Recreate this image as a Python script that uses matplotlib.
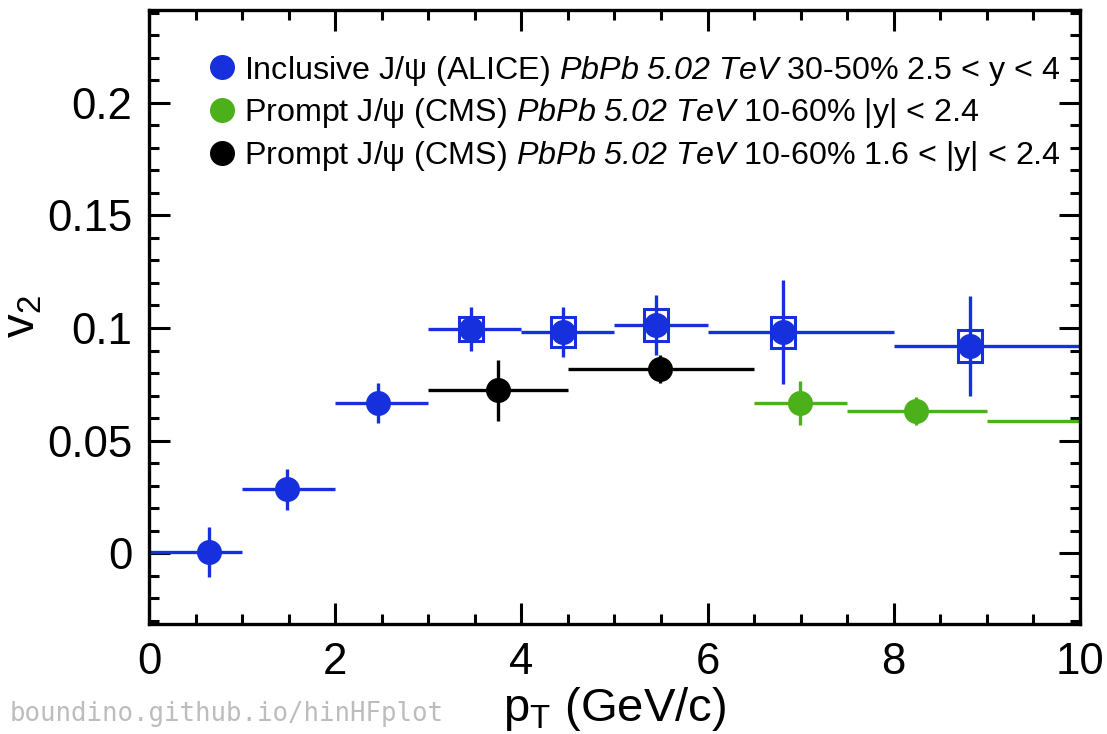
import numpy as np
import matplotlib
matplotlib.use("Agg")
import matplotlib.pyplot as plt
from matplotlib.lines import Line2D
from matplotlib.patches import Rectangle
from matplotlib.ticker import MultipleLocator

plt.rcParams['font.family'] = ['Liberation Sans', 'DejaVu Sans']
plt.rcParams['mathtext.fontset'] = 'custom'
plt.rcParams['mathtext.rm'] = 'Liberation Sans'
plt.rcParams['mathtext.it'] = 'Liberation Sans:italic'
plt.rcParams['mathtext.sf'] = 'Liberation Sans:italic'  # used for italic text incl. digits

# ALICE inclusive J/psi, PbPb 5.02 TeV 30-50%, 2.5<y<4
alice_pt = [0.64, 1.48, 2.46, 3.46, 4.45, 5.45, 6.81, 8.82]
alice_lo = [0, 1, 2, 3, 4, 5, 6, 8]
alice_hi = [1, 2, 3, 4, 5, 6, 8, 10]
alice_v2 = [0.0005, 0.0284, 0.0667, 0.0996, 0.0982, 0.1015, 0.0982, 0.092]
alice_stat = [0.011, 0.0091, 0.0089, 0.0098, 0.011, 0.0133, 0.0233, 0.0224]
alice_syst = [np.nan, np.nan, np.nan, 0.0053, 0.0067, 0.0071, 0.0069, 0.0071]

# CMS prompt J/psi, 10-60%, |y|<2.4
cms_pt = [6.99, 8.24, 10.3]
cms_lo = [6.5, 7.5, 9]
cms_hi = [7.5, 9, 12]
cms_v2 = [0.0667, 0.0631, 0.0587]
cms_stat = [0.0096, 0.0064, 0.008]

# CMS prompt J/psi, 10-60%, 1.6<|y|<2.4
cmsf_pt = [3.745, 5.49]
cmsf_lo = [3, 4.5]
cmsf_hi = [4.5, 6.5]
cmsf_v2 = [0.0724, 0.0818]
cmsf_stat = [0.0136, 0.0064]

blue = '#1530dc'
green = '#4cb01a'
black = '#000000'

labels = [
    r'Inclusive J/ψ (ALICE) $\mathsf{PbPb\ 5.02\ TeV}$ 30-50% 2.5 < y < 4',
    r'Prompt J/ψ (CMS) $\mathsf{PbPb\ 5.02\ TeV}$ 10-60% |y| < 2.4',
    r'Prompt J/ψ (CMS) $\mathsf{PbPb\ 5.02\ TeV}$ 10-60% 1.6 < |y| < 2.4',
]

fig = plt.figure(figsize=(11.07, 7.34), dpi=100)
ax = fig.add_axes([0.1346, 0.1499, 0.8410, 0.8365])


def draw(ax, pt, lo, hi, v2, stat, color):
    pt = np.array(pt)
    xerr = [pt - np.array(lo), np.array(hi) - pt]
    ax.errorbar(pt, v2, xerr=xerr, yerr=stat, fmt='o', color=color,
                ms=18, elinewidth=2.4, capsize=0, mew=0, clip_on=True)


draw(ax, cms_pt, cms_lo, cms_hi, cms_v2, cms_stat, green)
draw(ax, cmsf_pt, cmsf_lo, cmsf_hi, cmsf_v2, cmsf_stat, black)

# systematic boxes
for x, y, s in zip(alice_pt, alice_v2, alice_syst):
    if np.isnan(s):
        continue
    ax.add_patch(Rectangle((x - 0.13, y - s), 0.26, 2 * s, fill=False,
                           edgecolor=blue, lw=2.2, zorder=3))
draw(ax, alice_pt, alice_lo, alice_hi, alice_v2, alice_stat, blue)

ax.set_xlim(0, 10)
ax.set_ylim(-0.0315, 0.2413)
ax.xaxis.set_major_locator(MultipleLocator(2))
ax.xaxis.set_minor_locator(MultipleLocator(0.5))
ax.yaxis.set_minor_locator(MultipleLocator(0.01))
ax.set_yticks([0, 0.05, 0.1, 0.15, 0.2])
ax.set_yticklabels(['0', '0.05', '0.1', '0.15', '0.2'])
ax.tick_params(which='both', direction='in', top=True, right=True, width=2.2)
ax.tick_params(which='major', length=15, labelsize=31.5)
ax.tick_params(axis='x', which='major', pad=13)
ax.tick_params(axis='y', which='major', pad=12)
ax.tick_params(which='minor', length=7.5)
for sp in ax.spines.values():
    sp.set_linewidth(2.4)

ax.set_xlabel(r'p$_\mathrm{T}$ (GeV/c)', fontsize=34)
ax.xaxis.set_label_coords(0.5, -0.1)
ax.set_ylabel(r'v$_2$', fontsize=34)
ax.yaxis.set_label_coords(-0.112, 0.5)

handles = [Line2D([], [], ls='', marker='o', ms=18, mew=0, color=c)
           for c in (blue, green, black)]
ax.legend(handles, labels, loc='upper left', bbox_to_anchor=(0.0575, 0.929),
          frameon=False, fontsize=23.2, handletextpad=0.1, labelspacing=0.27,
          handlelength=1.2, borderaxespad=0, borderpad=0)

fig.text(0.009, 0.018, 'boundino.github.io/hinHFplot', family='DejaVu Sans Mono',
         fontsize=18.5, color='#bdbdbd')

fig.savefig('out.png', dpi=100)
